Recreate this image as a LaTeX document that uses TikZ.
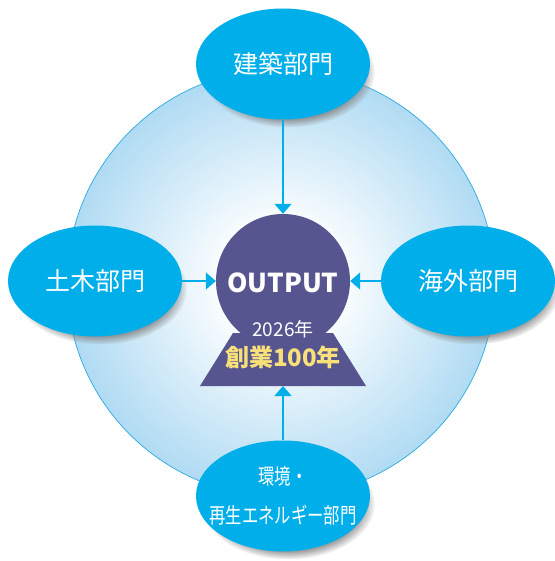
\documentclass[tikz,border=0pt]{standalone}
\usepackage{fontspec}
\usepackage{xcolor}
\usepackage{tikz}
\usetikzlibrary{shapes,arrows.meta,positioning,calc,shadows,fadings}

\newfontfamily\jpfont{Noto Sans CJK JP}

\definecolor{deptblue}{HTML}{00AEEA}
\definecolor{ringblue}{HTML}{2AA9E0}
\definecolor{paleblue}{HTML}{B0DBF3}
\definecolor{outpurple}{HTML}{57558F}
\definecolor{jubilee}{HTML}{F8E07A}

\pgfdeclareradialshading{ringglow}{\pgfpoint{0bp}{0bp}}{%
  color(0bp)=(white); color(6bp)=(white); color(25bp)=(paleblue); color(50bp)=(paleblue)}

\newcommand{\narrow}[1]{\makebox[0pt]{\scalebox{0.76}[1]{#1}}}

\tikzset{
  dept/.style={ellipse, fill=deptblue, minimum width=174pt, minimum height=111pt,
    inner sep=0pt, text=white, align=center, font=\jpfont\fontsize{25}{30}\selectfont,
    circular drop shadow={shadow xshift=5pt, shadow yshift=-8pt, shadow scale=1.0, opacity=0.75}},
  feed/.style={draw=deptblue, line width=1.4pt, -{Triangle[width=17pt,length=10pt]}},
}

\begin{document}
\begin{tikzpicture}[x=1pt,y=-1pt]
    \useasboundingbox (0,0) rectangle (554,561);

    % background ring
    \shade[shading=ringglow] (281,283) circle (214pt);
    \draw[ringblue, line width=0.7pt] (281,283) circle (214pt);

    % output keyhole
    \fill[outpurple] (283,281) circle (67pt);
    \fill[outpurple] (233,333) -- (333,333) -- (366,386) -- (200,386) -- cycle;
    \node[circle, minimum size=134pt, inner sep=0pt] (outc) at (283,281) {};
    \coordinate (outb) at (283,386);
    \node[text=white, font=\jpfont\bfseries\fontsize{26}{30}\selectfont] (outtxt) at (283,283) {OUTPUT};
    \node[text=white, font=\jpfont\fontsize{19}{22}\selectfont] (year) at (283,329) {2026年};
    \node[text=jubilee, font=\jpfont\bfseries\fontsize{24}{28}\selectfont] (founding) at (283,357) {創業100年};

    % departments
    \node[dept] (arch) at (283,64) {建築部門};
    \node[dept] (civil) at (95,281) {土木部門};
    \node[dept] (intl) at (468,281) {海外部門};
    \node[dept, font=\jpfont\fontsize{21.5}{39}\selectfont] (env) at (283,496)
      {\narrow{環境・}\\\narrow{再生エネルギー部門}};

    \draw[feed] (arch.south) -- (outc.north);
    \draw[feed] (civil.east) -- (outc.west);
    \draw[feed] (intl.west) -- (outc.east);
    \draw[feed] (env.north) -- (outb);
\end{tikzpicture}
\end{document}
